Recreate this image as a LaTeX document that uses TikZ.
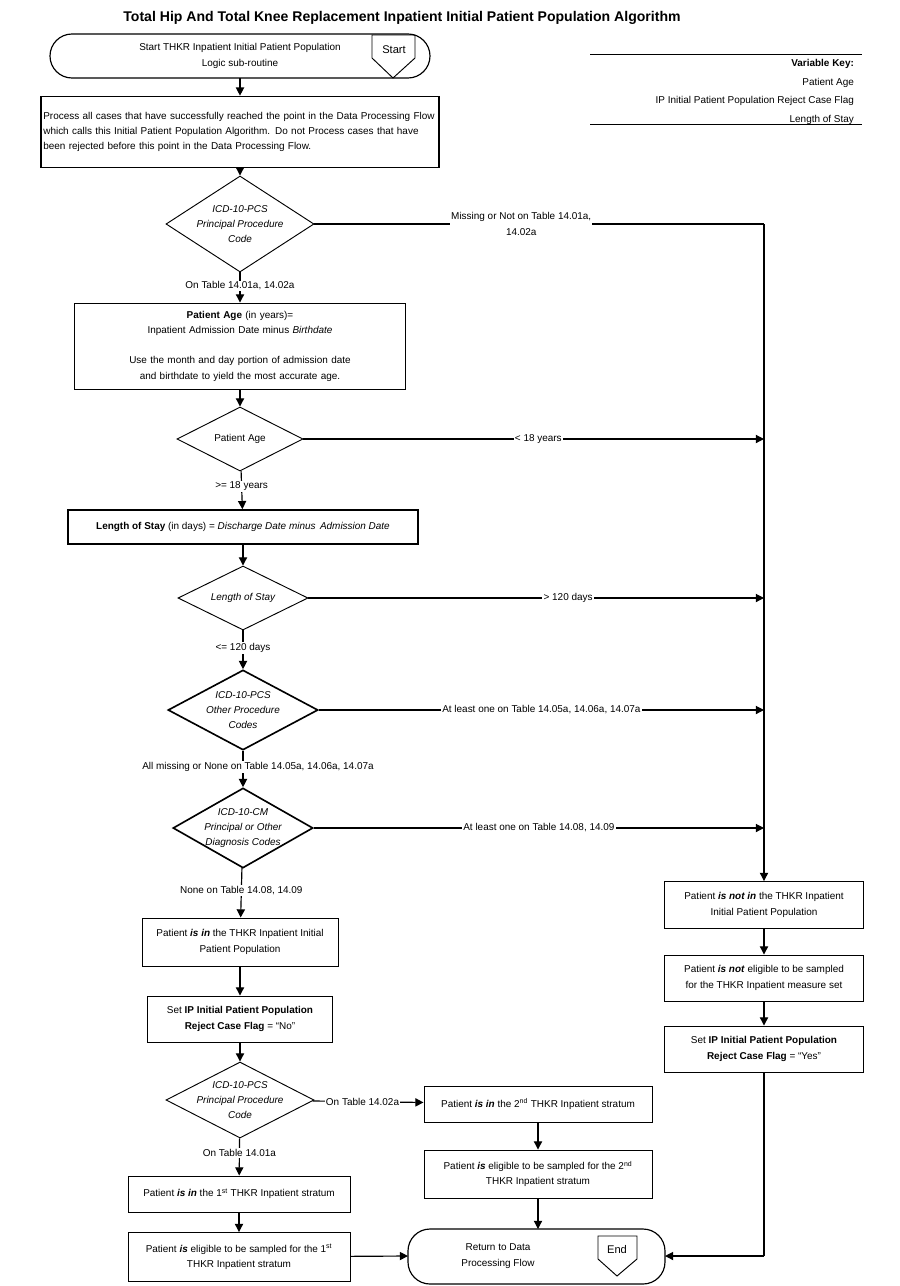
\documentclass[tikz,border=0pt]{standalone}
\usepackage{fontspec}
\setmainfont{Liberation Sans}
\usetikzlibrary{arrows.meta}
\usetikzlibrary{shapes.geometric}

\tikzset{
  box/.style={draw=black, line width=0.8pt, align=center, inner sep=2pt,
              font=\fontsize{8.5}{13}\selectfont},
  thickbox/.style={box, line width=1.4pt},
  dia/.style={shape=diamond, draw=black, line width=0.8pt, inner sep=0pt},
  diatext/.style={align=center, font=\fontsize{8.5}{13}\selectfont\itshape},
  term/.style={draw=black, line width=1pt, rounded corners=0.66cm},
  lbl/.style={fill=white, inner sep=1pt, align=center, font=\fontsize{8.5}{13}\selectfont},
  flow/.style={line width=1pt, -{Triangle[length=7pt,width=7pt]}},
  plain/.style={line width=1pt}
}

\begin{document}
\begin{tikzpicture}[x=0.03cm, y=-0.03cm]
        \useasboundingbox (0,0) rectangle (900,1286);
        % title
        \node[font=\fontsize{12}{14}\selectfont\bfseries] (title) at (402,18)
             {Total Hip And Total Knee Replacement Inpatient Initial Patient Population Algorithm};
        % start
        \draw[term] (50,34) rectangle (430,78);
        \node[box, draw=none] (startlbl) at (240,56)
             {Start THKR Inpatient Initial Patient Population\\Logic sub-routine};
        \coordinate (start) at (240,78);
        \draw[line width=0.8pt] (372,35) -- (415,35) -- (415,58) -- (393,78) -- (372,58) -- cycle;
        \node[font=\fontsize{9.5}{11}\selectfont] (startsym) at (394,50) {Start};
        % variable key
        \draw[line width=0.6pt] (590,54) -- (862,54);
        \draw[line width=0.6pt] (590,124) -- (862,124);
        \node[anchor=east, align=right, font=\fontsize{8.5}{16}\selectfont] (key) at (858,92)
             {\textbf{Variable Key:}\\Patient Age\\IP Initial Patient Population Reject Case Flag\\Length of Stay};
        % process
        \node[thickbox, align=left, text width=11.8cm, minimum height=2.13cm] (proc) at (240,132)
             {Process all cases that have successfully reached the point in the Data Processing Flow which calls this Initial Patient Population Algorithm. Do not Process cases that have been rejected before this point in the Data Processing Flow.};
        % decisions and boxes, left column
        \node[dia, minimum width=4.44cm, minimum height=2.88cm] (d1) at (240,224) {};
        \node[diatext] at (d1) {ICD-10-PCS\\Principal Procedure\\Code};
        \node[box, text width=9.8cm, minimum height=2.58cm] (age) at (240,346)
             {\textbf{Patient Age} (in years)=\\Inpatient Admission Date minus \textit{Birthdate}\\[13pt]Use the month and day portion of admission date and birthdate to yield the most accurate age.};
        \node[dia, minimum width=3.78cm, minimum height=1.92cm] (d2) at (240,439) {};
        \node[diatext, font=\fontsize{8.5}{13}\selectfont] at (d2) {Patient Age};
        \node[thickbox, minimum width=10.5cm, minimum height=1.02cm] (los) at (243,527)
             {\textbf{Length of Stay} (in days) = \textit{Discharge Date minus\, Admission Date}};
        \node[dia, minimum width=3.9cm, minimum height=1.92cm] (d3) at (243,598) {};
        \node[diatext] at (d3) {Length of Stay};
        \node[dia, line width=1.4pt, minimum width=4.5cm, minimum height=2.4cm] (d4) at (243,710) {};
        \node[diatext] at (d4) {ICD-10-PCS\\Other Procedure\\Codes};
        \node[dia, line width=1.4pt, minimum width=4.2cm, minimum height=2.4cm] (d5) at (243,828) {};
        \node[diatext] at (d5) {ICD-10-CM\\Principal or Other\\Diagnosis Codes};
        \node[box, minimum width=5.88cm, minimum height=1.44cm] (isin) at (240,942)
             {Patient \textbf{\textit{is in}} the THKR Inpatient Initial\\Patient Population};
        \node[box, minimum width=5.55cm, minimum height=1.38cm] (flagno) at (240,1019)
             {Set \textbf{IP Initial Patient Population}\\\textbf{Reject Case Flag} = “No”};
        \node[dia, minimum width=4.44cm, minimum height=2.28cm] (d6) at (240,1100) {};
        \node[diatext] at (d6) {ICD-10-PCS\\Principal Procedure\\Code};
        \node[box, minimum width=6.66cm, minimum height=1.08cm] (str1) at (239,1194)
             {Patient \textbf{\textit{is in}} the 1\textsuperscript{st} THKR Inpatient stratum};
        \node[box, minimum width=6.66cm, minimum height=1.47cm] (elig1) at (239,1257)
             {Patient \textbf{\textit{is}} eligible to be sampled for the 1\textsuperscript{st}\\THKR Inpatient stratum};
        \node[box, minimum width=6.84cm, minimum height=1.08cm] (str2) at (538,1104)
             {Patient \textbf{\textit{is in}} the 2\textsuperscript{nd} THKR Inpatient stratum};
        \node[box, minimum width=6.84cm, minimum height=1.44cm] (elig2) at (538,1174)
             {Patient \textbf{\textit{is}} eligible to be sampled for the 2\textsuperscript{nd}\\THKR Inpatient stratum};
        % end
        \draw[term] (408,1229) rectangle (665,1284);
        \node[box, draw=none] (endlbl) at (498,1256) {Return to Data\\Processing Flow};
        \coordinate (endtop) at (538,1229);
        \coordinate (endleft) at (408,1256);
        \coordinate (endright) at (665,1256);
        \draw[line width=0.8pt] (598,1236) -- (637,1236) -- (637,1259) -- (617,1276) -- (598,1259) -- cycle;
        \node[font=\fontsize{9.5}{11}\selectfont] (endsym) at (617,1250) {End};
        % right column
        \node[box, minimum width=5.97cm, minimum height=1.41cm] (isnot) at (764,905)
             {Patient \textbf{\textit{is not in}} the THKR Inpatient\\Initial Patient Population};
        \node[box, minimum width=5.97cm, minimum height=1.38cm] (noteli) at (764,978)
             {Patient \textbf{\textit{is not}} eligible to be sampled\\for the THKR Inpatient measure set};
        \node[box, minimum width=5.97cm, minimum height=1.38cm] (flagyes) at (764,1049)
             {Set \textbf{IP Initial Patient Population}\\\textbf{Reject Case Flag} = “Yes”};
        \coordinate (rd1) at (764,224);
        \coordinate (rd2) at (764,439);
        \coordinate (rd3) at (764,598);
        \coordinate (rd4) at (764,710);
        \coordinate (rd5) at (764,828);
        \coordinate (rbot) at (764,1256);
        % connectors
        \draw[flow] (start) -- (proc);
        \draw[flow] (proc) -- (d1);
        \draw[flow] (d1) -- node[lbl, pos=0.45] {On Table 14.01a, 14.02a} (age);
        \draw[flow] (age) -- (d2);
        \draw[flow] (d2) -- node[lbl, pos=0.4] {>= 18 years} (los);
        \draw[flow] (los) -- (d3);
        \draw[flow] (d3) -- node[lbl, pos=0.45] {<= 120 days} (d4);
        \draw[flow] (d4) -- node[lbl, pos=0.45, xshift=0.45cm] {All missing or None on Table 14.05a, 14.06a, 14.07a} (d5);
        \draw[flow] (d5) -- node[lbl, pos=0.45] {None on Table 14.08, 14.09} (isin);
        \draw[flow] (isin) -- (flagno);
        \draw[flow] (flagno) -- (d6);
        \draw[flow] (d6) -- node[lbl, pos=0.4] {On Table 14.01a} (str1);
        \draw[flow] (str1) -- (elig1);
        \draw[flow] (elig1) -- (endleft);
        \draw[flow] (d6) -- node[lbl, pos=0.45] {On Table 14.02a} (str2);
        \draw[flow] (str2) -- (elig2);
        \draw[flow] (elig2) -- (endtop);
        \draw[plain] (d1) -- node[lbl, pos=0.46] {Missing or Not on Table 14.01a,\\14.02a} (rd1);
        \draw[flow] (rd1) -- (isnot);
        \draw[flow] (d2) -- node[lbl, pos=0.51] {< 18 years} (rd2);
        \draw[flow] (d3) -- node[lbl, pos=0.57] {> 120 days} (rd3);
        \draw[flow] (d4) -- node[lbl, pos=0.5] {At least one on Table 14.05a, 14.06a, 14.07a} (rd4);
        \draw[flow] (d5) -- node[lbl, pos=0.5] {At least one on Table 14.08, 14.09} (rd5);
        \draw[flow] (isnot) -- (noteli);
        \draw[flow] (noteli) -- (flagyes);
        \draw[plain] (flagyes) -- (rbot);
        \draw[flow] (rbot) -- (endright);
\end{tikzpicture}
\end{document}
